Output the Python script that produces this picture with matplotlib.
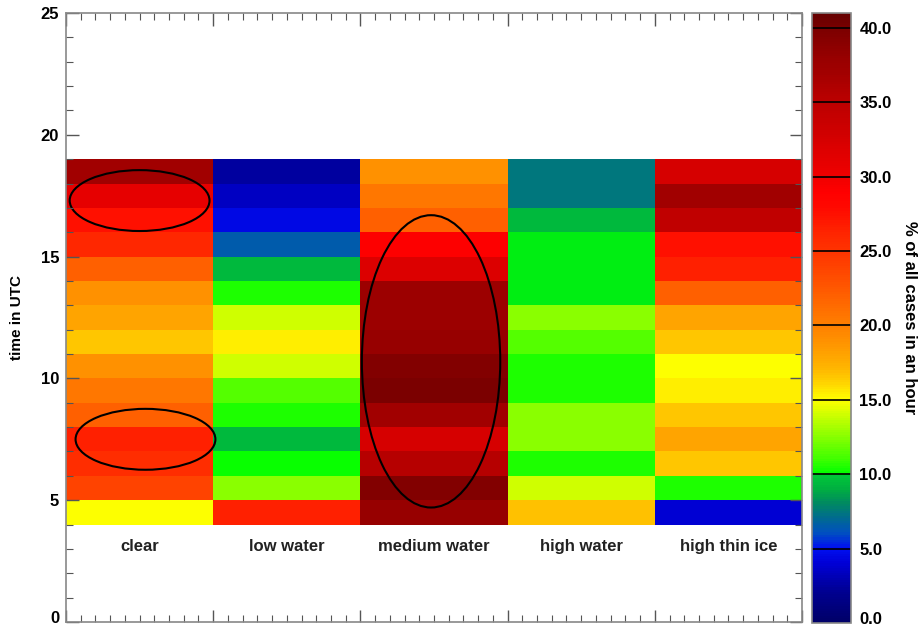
import numpy as np
import matplotlib
matplotlib.use("Agg")
import matplotlib.pyplot as plt
import matplotlib.transforms as mtransforms
from matplotlib.colors import LinearSegmentedColormap, Normalize
from matplotlib.patches import Ellipse

plt.rcParams['font.family'] = ['Liberation Sans', 'DejaVu Sans']

categories = ["clear", "low water", "medium water", "high water", "high thin ice"]
hours = list(range(4, 19))  # lower edge of each hourly bin (4..18)

# values listed from hour 4 up to hour 18 (% of all cases in an hour)
clear = [15, 24, 25.5, 26.5, 22, 20.5, 19, 16.5, 18, 19, 22, 26, 27.5, 31, 37]
low_water = [26.5, 12.5, 10.2, 9.3, 10.5, 11.5, 14, 15.5, 14, 10.5, 9.3, 6.5, 4.5, 3.5, 2.5]
medium_water = [38, 39.5, 35.5, 32.5, 37, 40, 39.5, 38, 37.5, 37.5, 32, 29, 22, 20.5, 19]
high_water = [16.8, 14, 10.5, 12.5, 12.5, 10.5, 10.5, 11.5, 12.5, 10, 10, 10, 9.3, 7.5, 7.5]
high_thin_ice = [4, 10.5, 16.5, 18, 16.5, 15.5, 15, 16.5, 18, 22, 26.5, 27.5, 34.5, 37, 32.5]

cbar_ticks = [0, 5, 10, 15, 20, 25, 30, 35, 40]

data = np.array([clear, low_water, medium_water, high_water, high_thin_ice]).T  # rows=hours

anchors = [
    (0, "#000068"), (2, "#000090"), (4, "#0000d8"), (5, "#0010f0"),
    (6, "#0050c0"), (7, "#006a90"), (8, "#008a60"), (9, "#00b040"),
    (9.9, "#00c838"), (10, "#00ff00"), (11, "#40ff00"), (12, "#70ff00"),
    (13, "#a0ff00"), (14, "#d0ff00"), (15, "#ffff00"), (16, "#ffd800"),
    (17, "#ffb800"), (18, "#ffa400"), (19, "#ff9000"), (20, "#ff8000"),
    (21, "#ff7000"), (22, "#ff6000"), (23, "#ff5000"), (24, "#ff4200"),
    (25, "#ff3400"), (26, "#ff2800"), (27, "#ff1800"), (28, "#ff0800"),
    (29, "#ff0000"), (30, "#f00000"), (31, "#e60000"), (32, "#dc0000"),
    (33, "#d00000"), (34, "#c60000"), (35, "#bc0000"), (36, "#b00000"),
    (37, "#a20000"), (38, "#980000"), (39, "#8a0000"), (40, "#7c0000"),
    (41, "#640000"),
]
vmax = 41.0
cmap = LinearSegmentedColormap.from_list(
    "idl", [(v / vmax, c) for v, c in anchors], N=256)
norm = Normalize(vmin=0, vmax=vmax)

fig = plt.figure(figsize=(9.23, 6.28), dpi=100)
W, H = 923, 628
ax = fig.add_axes([66 / W, (H - 622) / H, (802 - 66) / W, (622 - 13) / H])

x_edges = np.arange(len(categories) + 1)
y_edges = np.array(hours + [hours[-1] + 1])
ax.pcolormesh(x_edges, y_edges, data, cmap=cmap, norm=norm, shading="flat")

ax.set_xlim(0, 5)
ax.set_ylim(0, 25)
ax.set_xticks(np.arange(0, 6, 1))
ax.set_xticks(np.arange(0, 5.01, 0.1), minor=True)
ax.set_yticks(np.arange(0, 26, 5))
ax.set_yticks(np.arange(0, 26, 1), minor=True)
ax.set_xticklabels([])
ax.tick_params(which="both", direction="in", top=True, right=True, color="#555555")
ax.tick_params(which="major", length=9, width=1)
ax.tick_params(which="minor", length=5, width=0.8)
ax.tick_params(axis="y", labelsize=12, pad=5)
for lab in ax.get_yticklabels():
    lab.set_fontweight("bold")
for s in ax.spines.values():
    s.set_color("#888888")
    s.set_linewidth(1.2)
ax.set_ylabel("time in UTC", fontsize=11, fontweight="bold", labelpad=12)

shift_up = mtransforms.ScaledTranslation(0, 5 / 100, fig.dpi_scale_trans)
ylabs = ax.get_yticklabels()
ylabs[0].set_transform(ylabs[0].get_transform() + shift_up)

for i, c in enumerate(categories):
    ax.text(i + 0.5, 3.1, c, ha="center", va="center", fontsize=12, fontweight="bold",
            color="#222222")

ell_kw = dict(fill=False, edgecolor="black", linewidth=1.5)
ax.add_patch(Ellipse((0.5, 17.3), 0.95, 2.5, **ell_kw))
ax.add_patch(Ellipse((0.54, 7.5), 0.95, 2.5, **ell_kw))
ax.add_patch(Ellipse((2.48, 10.7), 0.94, 12.0, **ell_kw))

cax = fig.add_axes([812 / W, (H - 623) / H, (851 - 812) / W, (623 - 13) / H])
sm = plt.cm.ScalarMappable(norm=norm, cmap=cmap)
cb = fig.colorbar(sm, cax=cax, ticks=cbar_ticks)
cb.ax.set_yticklabels([f"{t:.1f}" for t in cbar_ticks])
cb.ax.tick_params(length=0, labelsize=12, pad=6)
for lab in cb.ax.get_yticklabels():
    lab.set_fontweight("bold")
clabs = cb.ax.get_yticklabels()
clabs[0].set_transform(clabs[0].get_transform() + shift_up)
for t in cbar_ticks[1:]:
    cb.ax.axhline(t, color="black", linewidth=1.2)
cb.outline.set_edgecolor("#888888")
cb.outline.set_linewidth(1.2)
cb.set_label("% of all cases in an hour", rotation=-90, fontsize=12,
             fontweight="bold", labelpad=18)

fig.savefig("out.png", dpi=100)
